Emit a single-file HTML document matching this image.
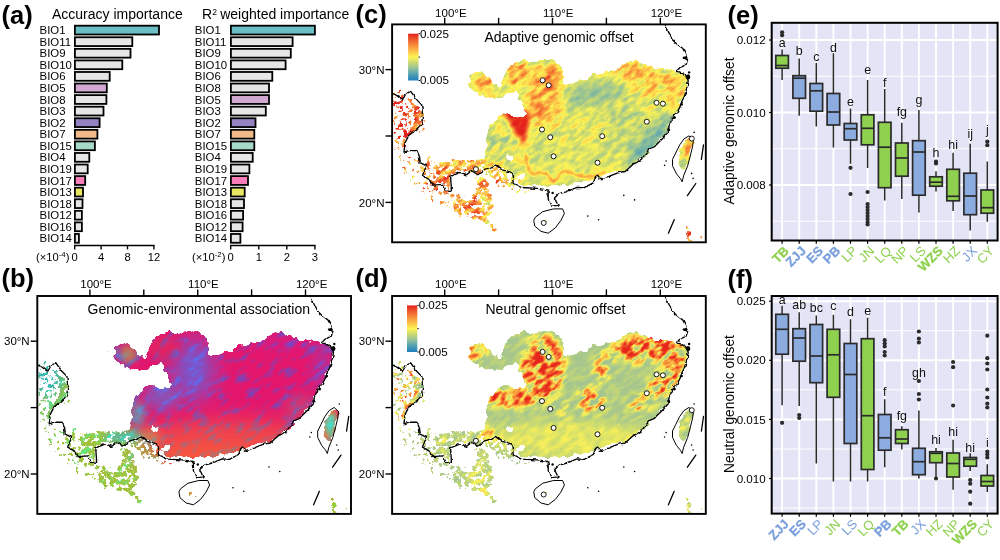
<!DOCTYPE html>
<html lang="en"><head><meta charset="utf-8"><title>Figure</title>
<style>
html,body{margin:0;padding:0;background:#fff;}
body{width:1000px;height:560px;overflow:hidden;}
svg{display:block;font-family:"Liberation Sans", Arial, Helvetica, sans-serif;}
</style></head><body>
<svg width="1000" height="560" viewBox="0 0 1000 560">
<defs>
<filter id="nz" x="0" y="0" width="313.7" height="217.9" filterUnits="userSpaceOnUse" color-interpolation-filters="sRGB">
<feTurbulence type="fractalNoise" baseFrequency="0.26 0.26" numOctaves="3" seed="7" result="t"/>
<feColorMatrix in="t" type="matrix" values="0 0 0 0 0 0 0 0 0 0 0 0 0 0 0 0 0 0 1 0" result="n"/>
<feTurbulence type="fractalNoise" baseFrequency="0.17" numOctaves="2" seed="19" result="t2"/>
<feDisplacementMap in="SourceGraphic" in2="t2" scale="7" xChannelSelector="R" yChannelSelector="G" result="dsp"/>
<feGaussianBlur in="dsp" stdDeviation="0.9" result="s"/>
<feComposite in="s" in2="n" operator="arithmetic" k1="0" k2="12.0" k3="13.200000000000001" k4="-12.100" result="m"/>
<feColorMatrix in="m" type="matrix" values="0 0 0 0 1 0 0 0 0 1 0 0 0 0 1 0 0 0 1 0"/>
</filter>
<filter id="pc" x="-129.0" y="-4.0" width="390.0" height="366.4" filterUnits="userSpaceOnUse" color-interpolation-filters="sRGB">
<feTurbulence type="fractalNoise" baseFrequency="0.09 0.2" numOctaves="3" seed="11" result="t"/>
<feColorMatrix in="t" type="matrix" values="0 0 0 2.2 -0.600 0 0 0 2.2 -0.600 0 0 0 2.2 -0.600 0 0 0 0 1" result="n"/>
<feColorMatrix in="SourceGraphic" type="matrix" values="0 1 0 0 0 0 1 0 0 0 0 1 0 0 0 0 0 0 0 1" result="A"/>
<feColorMatrix in="SourceGraphic" type="matrix" values="1 0 0 0 0 1 0 0 0 0 1 0 0 0 0 0 0 0 0 1" result="B"/>
<feComposite in="A" in2="n" operator="arithmetic" k1="1" k2="0" k3="0" k4="0" result="P"/>
<feComposite in="B" in2="P" operator="arithmetic" k1="0" k2="0.5" k3="0.5" k4="0" result="T"/>
<feComposite in="T" in2="A" operator="arithmetic" k1="0" k2="2" k3="-0.5" k4="0" result="v"/>
<feComponentTransfer in="v"><feFuncR type="table" tableValues="0.125 0.302 0.561 0.776 0.992 0.984 0.973 0.933 0.898"/><feFuncG type="table" tableValues="0.506 0.616 0.749 0.847 0.957 0.753 0.549 0.353 0.133"/><feFuncB type="table" tableValues="0.753 0.706 0.604 0.455 0.333 0.282 0.227 0.173 0.110"/><feFuncA type="linear" slope="0" intercept="1"/></feComponentTransfer>
</filter>
<filter id="pd" x="-129.0" y="-4.0" width="390.0" height="366.4" filterUnits="userSpaceOnUse" color-interpolation-filters="sRGB">
<feTurbulence type="fractalNoise" baseFrequency="0.09 0.2" numOctaves="3" seed="23" result="t"/>
<feColorMatrix in="t" type="matrix" values="0 0 0 2.2 -0.600 0 0 0 2.2 -0.600 0 0 0 2.2 -0.600 0 0 0 0 1" result="n"/>
<feColorMatrix in="SourceGraphic" type="matrix" values="0 1 0 0 0 0 1 0 0 0 0 1 0 0 0 0 0 0 0 1" result="A"/>
<feColorMatrix in="SourceGraphic" type="matrix" values="1 0 0 0 0 1 0 0 0 0 1 0 0 0 0 0 0 0 0 1" result="B"/>
<feComposite in="A" in2="n" operator="arithmetic" k1="1" k2="0" k3="0" k4="0" result="P"/>
<feComposite in="B" in2="P" operator="arithmetic" k1="0" k2="0.5" k3="0.5" k4="0" result="T"/>
<feComposite in="T" in2="A" operator="arithmetic" k1="0" k2="2" k3="-0.5" k4="0" result="v"/>
<feComponentTransfer in="v"><feFuncR type="table" tableValues="0.612 0.635 0.663 0.788 0.984 0.984 0.973 0.937 0.902"/><feFuncG type="table" tableValues="0.753 0.769 0.784 0.855 0.945 0.745 0.537 0.337 0.149"/><feFuncB type="table" tableValues="0.588 0.573 0.549 0.447 0.345 0.275 0.227 0.157 0.110"/><feFuncA type="linear" slope="0" intercept="1"/></feComponentTransfer>
</filter>
<filter id="pb" x="-129.0" y="-4.0" width="390.0" height="366.4" filterUnits="userSpaceOnUse" color-interpolation-filters="sRGB">
<feTurbulence type="fractalNoise" baseFrequency="0.07 0.17" numOctaves="3" seed="5" result="t"/>
<feColorMatrix in="t" type="matrix" values="0 0 0 0 0  0 0 0 0.540 -0.270  0 0 0 0.900 -0.450  0 0 0 0 1" result="n1"/>
<feColorMatrix in="t" type="matrix" values="0 0 0 -1.380 1.690  0 0 0 0 1  0 0 0 0 1  0 0 0 0 1" result="n2"/>
<feComposite in="SourceGraphic" in2="n1" operator="arithmetic" k1="0" k2="1" k3="1" k4="0" result="v1"/>
<feComposite in="v1" in2="n2" operator="arithmetic" k1="1" k2="0" k3="0" k4="0" result="v"/>
<feComponentTransfer in="v"><feFuncA type="linear" slope="0" intercept="1"/></feComponentTransfer>
</filter>
<filter id="jag" x="-2" y="-2" width="317.7" height="221.9" filterUnits="userSpaceOnUse">
<feTurbulence type="fractalNoise" baseFrequency="0.22" numOctaves="2" seed="3" result="t"/>
<feDisplacementMap in="SourceGraphic" in2="t" scale="3.6" xChannelSelector="R" yChannelSelector="G"/>
</filter>
<mask id="mk" maskUnits="userSpaceOnUse" x="0" y="0" width="313.7" height="217.9"><g filter="url(#nz)"><g transform="translate(0.5,0)"><path d="M3.0 130.0 L12.0 128.0 L27.0 135.0 L31.0 150.0 L40.0 160.0 L52.0 166.0 L62.0 168.0 L74.0 170.0 L76.0 184.0 L72.0 194.0 L60.0 190.0 L48.0 182.0 L36.0 176.0 L24.0 166.0 L12.0 152.0 L4.0 140.0Z" fill="#000" fill-opacity="0.328"/><path d="M27.0 134.0 L36.0 132.0 L46.0 136.0 L52.0 140.0 L45.0 145.0 L41.0 151.0 L37.0 157.0 L41.0 161.0 L52.0 166.0 L60.0 166.0 L62.0 171.0 L52.0 170.0 L42.0 166.0 L34.0 160.0 L29.0 150.0 L27.0 142.0Z" fill="#000" fill-opacity="0.422"/><path d="M96.3 129.4 L88.2 134.5 L82.1 134.5 L76.0 136.6 L67.9 134.5 L59.7 134.5 L51.6 136.6 L46.5 140.6 L44.5 144.7 L41.4 150.8 L37.3 157.0 L41.4 161.0 L44.5 159.0 L51.6 160.0 L53.6 165.0 L60.7 165.0 L59.7 161.0 L58.7 151.8 L61.7 149.8 L67.9 146.7 L71.9 147.8 L78.0 147.8 L84.1 149.8 L90.2 147.8 L96.3 144.7 L102.5 141.6 L99.0 135.0Z" fill="#000" fill-opacity="0.613"/><path d="M102.5 142.7 L110.6 144.7 L118.7 150.8 L122.8 161.0 L118.0 166.0 L110.0 164.0 L104.0 161.0 L98.4 154.9 L92.3 149.8 L96.0 145.0Z" fill="#000" fill-opacity="0.517"/><path d="M80.1 150.8 L88.2 149.8 L96.3 156.9 L98.4 165.0 L100.4 173.2 L102.5 181.3 L100.4 189.5 L96.3 193.5 L102.5 203.7 L107.5 214.9 L103.5 212.9 L96.3 203.7 L90.2 197.6 L82.1 195.6 L76.0 189.5 L75.0 179.3 L78.0 171.2 L82.1 165.0 L84.1 159.0 L80.1 154.9Z" fill="#000" fill-opacity="0.578"/><path d="M62.0 171.0 L75.0 175.0 L76.0 189.0 L82.0 196.0 L78.0 199.0 L68.0 192.0 L60.0 182.0Z" fill="#000" fill-opacity="0.387"/><path d="M15.4 74.5 L20.4 73.5 L24.4 79.5 L28.9 82.5 L29.9 90.5 L28.4 99.5 L21.4 107.5 L17.4 111.0 L13.0 119.0 L10.5 127.0 L5.5 127.0 L8.0 119.0 L12.4 111.0 L17.4 103.5 L20.4 97.5 L21.4 90.5 L20.4 83.5 L17.4 78.5Z" fill="#000" fill-opacity="0.639"/><path d="M0.0 66.0 L7.5 64.0 L15.4 74.5 L17.4 78.5 L20.4 83.5 L21.4 90.5 L20.4 97.5 L17.4 103.5 L12.4 111.0 L8.0 119.0 L5.5 127.0 L0.0 127.0Z" fill="#000" fill-opacity="0.430"/><path d="M28.9 82.5 L32.5 86.0 L33.5 98.0 L30.5 106.0 L25.5 110.0 L21.4 107.5 L28.4 99.5 L29.9 90.5Z" fill="#000" fill-opacity="0.410"/><path d="M121.0 160.0 L128.0 163.0 L135.0 165.0 L134.0 169.0 L126.0 170.0 L121.0 167.0Z" fill="#000" fill-opacity="0.410"/><path d="M146.0 196.0 L152.0 194.0 L158.0 196.0 L160.0 199.0 L154.0 201.0 L147.0 200.0Z" fill="#000" fill-opacity="0.448"/><path d="M292.3 201.0 L296.5 202.0 L298.5 208.0 L299.0 217.5 L294.0 217.5 L293.3 209.0Z" fill="#000" fill-opacity="0.613"/><path d="M306.8 209.0 L309.8 210.0 L310.0 217.5 L307.3 217.5Z" fill="#000" fill-opacity="0.534"/><path d="M85.6 45.0 L92.2 50.6 L99.4 57.0 L105.4 60.8 L109.6 60.4 L110.2 55.2 L112.6 48.0 L117.4 40.8 L124.6 37.2 L134.2 36.0 L141.4 37.2 L146.2 35.4 L153.4 35.4 L160.6 36.6 L166.6 39.6 L170.2 45.6 L171.4 54.0 L170.0 59.5 L176.3 60.3 L184.3 57.9 L192.3 54.6 L200.4 49.8 L208.4 47.4 L216.4 46.6 L224.5 45.8 L226.1 42.6 L229.3 40.2 L235.7 37.8 L240.5 36.6 L246.9 37.3 L251.8 39.4 L256.6 42.1 L263.0 44.2 L271.0 44.2 L275.9 45.0 L282.3 46.6 L288.7 48.2 L293.5 51.4 L295.1 56.3 L294.3 61.1 L292.7 67.5 L291.1 72.3 L288.7 77.1 L287.1 82.0 L284.7 86.8 L283.1 90.0 L280.7 90.0 L279.1 94.8 L275.9 101.3 L275.1 107.7 L271.0 112.5 L266.2 117.3 L261.4 122.1 L256.6 124.6 L253.4 130.2 L248.6 134.2 L243.7 137.4 L239.7 141.4 L234.1 144.6 L227.7 146.3 L222.9 147.1 L216.4 149.5 L208.4 151.9 L203.6 151.9 L200.4 154.0 L192.3 156.0 L184.3 158.3 L176.3 159.8 L170.0 161.2 L164.6 161.4 L153.8 161.0 L142.2 160.6 L135.0 161.5 L128.0 160.0 L122.0 156.0 L119.0 150.0 L119.1 147.9 L112.6 144.6 L104.6 141.4 L96.6 143.0 L90.2 138.2 L92.6 131.8 L95.0 122.1 L94.2 112.5 L96.6 102.9 L103.0 94.8 L111.0 89.5 L118.0 90.5 L127.0 93.0 L134.0 88.5 L130.0 80.0 L126.0 72.0 L125.8 63.6 L122.2 66.0 L115.0 69.6 L110.2 73.2 L101.8 74.2 L92.2 72.4 L86.2 70.6 L80.0 67.0 L76.0 62.4 L76.4 56.0 L77.2 51.0 L81.0 47.4ZM123.5 150.0 L127.0 149.0 L131.5 150.5 L132.5 153.5 L129.5 155.5 L126.0 154.5 L123.5 153.0ZM112.5 131.5 L116.0 130.0 L120.0 131.5 L121.0 134.5 L117.0 136.0 L113.0 135.0Z" fill="#000" fill-rule="evenodd"/><path d="M296.0 112.5 L300.3 115.7 L299.5 122.0 L297.6 130.0 L295.0 138.0 L292.5 144.0 L289.5 146.0 L286.5 142.5 L285.5 137.0 L286.5 131.0 L288.5 125.0 L291.0 119.0 L293.5 114.5Z" fill="#000"/></g></g></mask>
<clipPath id="fc"><rect x="0" y="0" width="313.7" height="217.9"/></clipPath>
<filter id="b1" x="-60%" y="-60%" width="220%" height="220%"><feGaussianBlur stdDeviation="1"/></filter>
<filter id="b2" x="-60%" y="-60%" width="220%" height="220%"><feGaussianBlur stdDeviation="2"/></filter>
<filter id="b3" x="-60%" y="-60%" width="220%" height="220%"><feGaussianBlur stdDeviation="3"/></filter>
<filter id="b4" x="-60%" y="-60%" width="220%" height="220%"><feGaussianBlur stdDeviation="4"/></filter>
<filter id="b6" x="-60%" y="-60%" width="220%" height="220%"><feGaussianBlur stdDeviation="6"/></filter>
<filter id="b10" x="-60%" y="-60%" width="220%" height="220%"><feGaussianBlur stdDeviation="10"/></filter>
<filter id="b14" x="-60%" y="-60%" width="220%" height="220%"><feGaussianBlur stdDeviation="14"/></filter>
<linearGradient id="lg" x1="0" y1="0" x2="0" y2="1"><stop offset="0.000" stop-color="#E5221C"/><stop offset="0.125" stop-color="#EE5A2C"/><stop offset="0.250" stop-color="#F88C3A"/><stop offset="0.375" stop-color="#FBC048"/><stop offset="0.500" stop-color="#FDF455"/><stop offset="0.625" stop-color="#C6D874"/><stop offset="0.750" stop-color="#8FBF9A"/><stop offset="0.875" stop-color="#4D9DB4"/><stop offset="1.000" stop-color="#2081C0"/></linearGradient>
<g id="lines" fill="none" stroke="#000" stroke-width="1.25" stroke-linejoin="round" stroke-linecap="round"><g filter="url(#jag)"><path d="M0.2 69.1 L4.0 71.0 L9.8 75.5 L13.0 70.0 L17.9 66.7 L21.0 71.0 L24.3 75.5 L29.1 80.4 L29.9 90.0 L29.1 99.6 L24.3 104.5 L16.3 110.9 L12.2 118.9 L11.4 127.8 L16.3 126.2 L24.3 126.2 L26.7 131.8 L27.5 138.2 L33.9 141.4 L29.9 151.1 L38.0 155.9 L40.4 160.7 L50.0 159.9 L53.2 165.5 L58.8 166.3 L58.0 151.9 L67.7 147.9 L74.1 150.3 L78.9 146.3 L85.3 150.3 L91.8 145.4 L103.0 140.6 L109.4 145.4 L119.1 147.9 L120.7 159.1 L128.7 163.1 L144.8 163.9 L154.4 165.5 L155.6 167.4 L155.6 174.6 L158.3 181.8 L165.5 180.9 L161.9 173.7 L166.4 169.2 L173.6 167.4 L184.4 162.9 L191.6 163.3 L200.6 158.5 L203.8 151.5 L208.4 154.3 L216.4 151.9 L224.5 148.7 L232.5 147.1 L240.5 139.8 L243.7 138.2 L248.6 135.0 L255.0 127.0 L256.6 124.6 L261.4 122.6 L266.2 117.8 L271.5 112.5 L275.6 107.7 L276.4 101.3 L279.6 94.8 L281.2 90.0 L283.6 90.0 L285.2 86.8 L287.6 82.0 L289.2 77.1 L291.6 72.3 L293.2 67.5 L294.8 61.1 L295.6 56.3 L294.0 51.4 L288.7 48.2 L283.9 46.6 L287.1 43.4 L293.5 40.2 L295.1 35.4 L291.9 33.8 L293.5 30.5 L290.3 24.1 L283.9 19.3 L279.1 14.5 L272.6 0.0" stroke-width="1.35"/></g><path d="M143.0 192.6 L150.2 187.2 L161.0 184.5 L170.0 184.5 L171.8 189.0 L168.2 196.2 L162.8 203.4 L155.6 208.8 L148.4 207.0 L142.1 201.6 L141.2 196.2Z" stroke-width="1.0"/><path d="M296.7 111.7 L300.8 115.7 L300.0 122.1 L297.6 131.8 L295.1 141.4 L291.1 151.1 L289.5 157.5 L287.9 154.3 L283.9 149.5 L279.9 141.4 L279.9 135.0 L283.1 128.6 L287.1 120.5 L291.1 114.9Z" stroke-width="1.0"/><path d="M310.9 120.5 L308.8 135" stroke-width="1.3"/><path d="M303.2 159.1 L294.8 171.2" stroke-width="1.3"/><path d="M281.6 195.3 L275.8 208.8" stroke-width="1.3"/><circle cx="231.2" cy="171" r="0.8" fill="#000" stroke="none"/><circle cx="242" cy="175.5" r="0.8" fill="#000" stroke="none"/><circle cx="195.2" cy="191.7" r="0.8" fill="#000" stroke="none"/><circle cx="206" cy="195.3" r="0.8" fill="#000" stroke="none"/><circle cx="273.5" cy="136.6" r="0.8" fill="#000" stroke="none"/><circle cx="272" cy="141" r="0.8" fill="#000" stroke="none"/><circle cx="301.5" cy="108" r="0.8" fill="#000" stroke="none"/><circle cx="299" cy="149" r="0.8" fill="#000" stroke="none"/><circle cx="300.5" cy="154" r="0.8" fill="#000" stroke="none"/><ellipse cx="292.5" cy="33.5" rx="2.6" ry="1.3" fill="#000" stroke="none"/><ellipse cx="295.5" cy="52.5" rx="2.2" ry="2.6" fill="#000" stroke="none"/><ellipse cx="296.5" cy="48" rx="1.2" ry="1.2" fill="#000" stroke="none"/><ellipse cx="289" cy="80" rx="1.3" ry="1.3" fill="#000" stroke="none"/><ellipse cx="282" cy="93" rx="1.2" ry="1.5" fill="#000" stroke="none"/><ellipse cx="276" cy="105" rx="1.4" ry="1.2" fill="#000" stroke="none"/><ellipse cx="160" cy="168.5" rx="1.2" ry="1.2" fill="#000" stroke="none"/></g>
</defs>
<rect width="1000" height="560" fill="#fff"/>
<text x="1.50" y="24.00" font-size="25.5" text-anchor="start" font-weight="bold" fill="#000" >(a)</text>
<rect x="74.90" y="25.70" width="84.10" height="8.80" fill="#6BBEC4" stroke="#000" stroke-width="1.8"/>
<text x="39.60" y="34.20" font-size="11.4" text-anchor="start" font-weight="normal" fill="#000" >BIO1</text>
<rect x="74.90" y="37.27" width="57.40" height="8.80" fill="#E6E6E6" stroke="#000" stroke-width="1.8"/>
<text x="39.60" y="45.77" font-size="11.4" text-anchor="start" font-weight="normal" fill="#000" >BIO11</text>
<rect x="74.90" y="48.84" width="55.60" height="8.80" fill="#E6E6E6" stroke="#000" stroke-width="1.8"/>
<text x="39.60" y="57.34" font-size="11.4" text-anchor="start" font-weight="normal" fill="#000" >BIO9</text>
<rect x="74.90" y="60.41" width="47.40" height="8.80" fill="#E6E6E6" stroke="#000" stroke-width="1.8"/>
<text x="39.60" y="68.91" font-size="11.4" text-anchor="start" font-weight="normal" fill="#000" >BIO10</text>
<rect x="74.90" y="71.98" width="34.80" height="8.80" fill="#E6E6E6" stroke="#000" stroke-width="1.8"/>
<text x="39.60" y="80.48" font-size="11.4" text-anchor="start" font-weight="normal" fill="#000" >BIO6</text>
<rect x="74.90" y="83.55" width="31.90" height="8.80" fill="#D3A8D3" stroke="#000" stroke-width="1.8"/>
<text x="39.60" y="92.05" font-size="11.4" text-anchor="start" font-weight="normal" fill="#000" >BIO5</text>
<rect x="74.90" y="95.12" width="31.50" height="8.80" fill="#E6E6E6" stroke="#000" stroke-width="1.8"/>
<text x="39.60" y="103.62" font-size="11.4" text-anchor="start" font-weight="normal" fill="#000" >BIO8</text>
<rect x="74.90" y="106.69" width="28.60" height="8.80" fill="#E6E6E6" stroke="#000" stroke-width="1.8"/>
<text x="39.60" y="115.19" font-size="11.4" text-anchor="start" font-weight="normal" fill="#000" >BIO3</text>
<rect x="74.90" y="118.26" width="24.70" height="8.80" fill="#9582C3" stroke="#000" stroke-width="1.8"/>
<text x="39.60" y="126.76" font-size="11.4" text-anchor="start" font-weight="normal" fill="#000" >BIO2</text>
<rect x="74.90" y="129.83" width="22.50" height="8.80" fill="#F0BB87" stroke="#000" stroke-width="1.8"/>
<text x="39.60" y="138.33" font-size="11.4" text-anchor="start" font-weight="normal" fill="#000" >BIO7</text>
<rect x="74.90" y="141.40" width="20.00" height="8.80" fill="#A6D9CA" stroke="#000" stroke-width="1.8"/>
<text x="39.60" y="149.90" font-size="11.4" text-anchor="start" font-weight="normal" fill="#000" >BIO15</text>
<rect x="74.90" y="152.97" width="14.40" height="8.80" fill="#E6E6E6" stroke="#000" stroke-width="1.8"/>
<text x="39.60" y="161.47" font-size="11.4" text-anchor="start" font-weight="normal" fill="#000" >BIO4</text>
<rect x="74.90" y="164.54" width="12.80" height="8.80" fill="#E6E6E6" stroke="#000" stroke-width="1.8"/>
<text x="39.60" y="173.04" font-size="11.4" text-anchor="start" font-weight="normal" fill="#000" >BIO19</text>
<rect x="74.90" y="176.11" width="10.30" height="8.80" fill="#F77CB7" stroke="#000" stroke-width="1.8"/>
<text x="39.60" y="184.61" font-size="11.4" text-anchor="start" font-weight="normal" fill="#000" >BIO17</text>
<rect x="74.90" y="187.68" width="8.10" height="8.80" fill="#E9E662" stroke="#000" stroke-width="1.8"/>
<text x="39.60" y="196.18" font-size="11.4" text-anchor="start" font-weight="normal" fill="#000" >BIO13</text>
<rect x="74.90" y="199.25" width="7.60" height="8.80" fill="#E6E6E6" stroke="#000" stroke-width="1.8"/>
<text x="39.60" y="207.75" font-size="11.4" text-anchor="start" font-weight="normal" fill="#000" >BIO18</text>
<rect x="74.90" y="210.82" width="7.00" height="8.80" fill="#E6E6E6" stroke="#000" stroke-width="1.8"/>
<text x="39.60" y="219.32" font-size="11.4" text-anchor="start" font-weight="normal" fill="#000" >BIO12</text>
<rect x="74.90" y="222.39" width="7.00" height="8.80" fill="#E6E6E6" stroke="#000" stroke-width="1.8"/>
<text x="39.60" y="230.89" font-size="11.4" text-anchor="start" font-weight="normal" fill="#000" >BIO16</text>
<rect x="74.90" y="233.96" width="4.00" height="8.80" fill="#E6E6E6" stroke="#000" stroke-width="1.8"/>
<text x="39.60" y="242.46" font-size="11.4" text-anchor="start" font-weight="normal" fill="#000" >BIO14</text>
<path d="M74.00 245.6 H154.60" stroke="#000" stroke-width="1.5" fill="none"/>
<path d="M74.70 245.6 V249.4" stroke="#000" stroke-width="1.4" fill="none"/>
<text x="74.70" y="260.50" font-size="11.2" text-anchor="middle" font-weight="normal" fill="#000" >0</text>
<path d="M101.10 245.6 V249.4" stroke="#000" stroke-width="1.4" fill="none"/>
<text x="101.10" y="260.50" font-size="11.2" text-anchor="middle" font-weight="normal" fill="#000" >4</text>
<path d="M127.50 245.6 V249.4" stroke="#000" stroke-width="1.4" fill="none"/>
<text x="127.50" y="260.50" font-size="11.2" text-anchor="middle" font-weight="normal" fill="#000" >8</text>
<path d="M153.90 245.6 V249.4" stroke="#000" stroke-width="1.4" fill="none"/>
<text x="153.90" y="260.50" font-size="11.2" text-anchor="middle" font-weight="normal" fill="#000" >12</text>
<text x="36.00" y="260.5" font-size="11.2">(×10<tspan font-size="7.8" dy="-4">-4</tspan><tspan dy="4">)</tspan></text>
<text x="52.00" y="19.2" font-size="14">Accuracy importance</text>
<rect x="230.90" y="25.70" width="84.00" height="8.80" fill="#6BBEC4" stroke="#000" stroke-width="1.8"/>
<text x="194.80" y="34.20" font-size="11.4" text-anchor="start" font-weight="normal" fill="#000" >BIO1</text>
<rect x="230.90" y="37.27" width="61.70" height="8.80" fill="#E6E6E6" stroke="#000" stroke-width="1.8"/>
<text x="194.80" y="45.77" font-size="11.4" text-anchor="start" font-weight="normal" fill="#000" >BIO11</text>
<rect x="230.90" y="48.84" width="59.90" height="8.80" fill="#E6E6E6" stroke="#000" stroke-width="1.8"/>
<text x="194.80" y="57.34" font-size="11.4" text-anchor="start" font-weight="normal" fill="#000" >BIO9</text>
<rect x="230.90" y="60.41" width="54.70" height="8.80" fill="#E6E6E6" stroke="#000" stroke-width="1.8"/>
<text x="194.80" y="68.91" font-size="11.4" text-anchor="start" font-weight="normal" fill="#000" >BIO10</text>
<rect x="230.90" y="71.98" width="41.40" height="8.80" fill="#E6E6E6" stroke="#000" stroke-width="1.8"/>
<text x="194.80" y="80.48" font-size="11.4" text-anchor="start" font-weight="normal" fill="#000" >BIO6</text>
<rect x="230.90" y="83.55" width="38.10" height="8.80" fill="#E6E6E6" stroke="#000" stroke-width="1.8"/>
<text x="194.80" y="92.05" font-size="11.4" text-anchor="start" font-weight="normal" fill="#000" >BIO8</text>
<rect x="230.90" y="95.12" width="38.10" height="8.80" fill="#D3A8D3" stroke="#000" stroke-width="1.8"/>
<text x="194.80" y="103.62" font-size="11.4" text-anchor="start" font-weight="normal" fill="#000" >BIO5</text>
<rect x="230.90" y="106.69" width="34.90" height="8.80" fill="#E6E6E6" stroke="#000" stroke-width="1.8"/>
<text x="194.80" y="115.19" font-size="11.4" text-anchor="start" font-weight="normal" fill="#000" >BIO3</text>
<rect x="230.90" y="118.26" width="24.60" height="8.80" fill="#9582C3" stroke="#000" stroke-width="1.8"/>
<text x="194.80" y="126.76" font-size="11.4" text-anchor="start" font-weight="normal" fill="#000" >BIO2</text>
<rect x="230.90" y="129.83" width="23.40" height="8.80" fill="#F0BB87" stroke="#000" stroke-width="1.8"/>
<text x="194.80" y="138.33" font-size="11.4" text-anchor="start" font-weight="normal" fill="#000" >BIO7</text>
<rect x="230.90" y="141.40" width="23.40" height="8.80" fill="#A6D9CA" stroke="#000" stroke-width="1.8"/>
<text x="194.80" y="149.90" font-size="11.4" text-anchor="start" font-weight="normal" fill="#000" >BIO15</text>
<rect x="230.90" y="152.97" width="21.80" height="8.80" fill="#E6E6E6" stroke="#000" stroke-width="1.8"/>
<text x="194.80" y="161.47" font-size="11.4" text-anchor="start" font-weight="normal" fill="#000" >BIO4</text>
<rect x="230.90" y="164.54" width="18.50" height="8.80" fill="#E6E6E6" stroke="#000" stroke-width="1.8"/>
<text x="194.80" y="173.04" font-size="11.4" text-anchor="start" font-weight="normal" fill="#000" >BIO19</text>
<rect x="230.90" y="176.11" width="17.10" height="8.80" fill="#F77CB7" stroke="#000" stroke-width="1.8"/>
<text x="194.80" y="184.61" font-size="11.4" text-anchor="start" font-weight="normal" fill="#000" >BIO17</text>
<rect x="230.90" y="187.68" width="13.80" height="8.80" fill="#E9E662" stroke="#000" stroke-width="1.8"/>
<text x="194.80" y="196.18" font-size="11.4" text-anchor="start" font-weight="normal" fill="#000" >BIO13</text>
<rect x="230.90" y="199.25" width="13.10" height="8.80" fill="#E6E6E6" stroke="#000" stroke-width="1.8"/>
<text x="194.80" y="207.75" font-size="11.4" text-anchor="start" font-weight="normal" fill="#000" >BIO18</text>
<rect x="230.90" y="210.82" width="12.20" height="8.80" fill="#E6E6E6" stroke="#000" stroke-width="1.8"/>
<text x="194.80" y="219.32" font-size="11.4" text-anchor="start" font-weight="normal" fill="#000" >BIO16</text>
<rect x="230.90" y="222.39" width="11.70" height="8.80" fill="#E6E6E6" stroke="#000" stroke-width="1.8"/>
<text x="194.80" y="230.89" font-size="11.4" text-anchor="start" font-weight="normal" fill="#000" >BIO12</text>
<rect x="230.90" y="233.96" width="9.50" height="8.80" fill="#E6E6E6" stroke="#000" stroke-width="1.8"/>
<text x="194.80" y="242.46" font-size="11.4" text-anchor="start" font-weight="normal" fill="#000" >BIO14</text>
<path d="M230.00 245.6 H315.60" stroke="#000" stroke-width="1.5" fill="none"/>
<path d="M230.70 245.6 V249.4" stroke="#000" stroke-width="1.4" fill="none"/>
<text x="230.70" y="260.50" font-size="11.2" text-anchor="middle" font-weight="normal" fill="#000" >0</text>
<path d="M258.80 245.6 V249.4" stroke="#000" stroke-width="1.4" fill="none"/>
<text x="258.80" y="260.50" font-size="11.2" text-anchor="middle" font-weight="normal" fill="#000" >1</text>
<path d="M286.80 245.6 V249.4" stroke="#000" stroke-width="1.4" fill="none"/>
<text x="286.80" y="260.50" font-size="11.2" text-anchor="middle" font-weight="normal" fill="#000" >2</text>
<path d="M314.90 245.6 V249.4" stroke="#000" stroke-width="1.4" fill="none"/>
<text x="314.90" y="260.50" font-size="11.2" text-anchor="middle" font-weight="normal" fill="#000" >3</text>
<text x="192.00" y="260.5" font-size="11.2">(×10<tspan font-size="7.8" dy="-4">-2</tspan><tspan dy="4">)</tspan></text>
<text x="202.00" y="19.2" font-size="14">R<tspan font-size="8.6" dy="-4.6">2</tspan><tspan dy="4.6" dx="-0.6"> weighted importance</tspan></text>
<g transform="translate(37.3,296.0)"><g clip-path="url(#fc)"><g mask="url(#mk)"><g transform="rotate(-35.0)"><g filter="url(#pb)"><g transform="rotate(35.0)"><rect x="-200" y="-200" width="713.7" height="617.9" fill="#E4166C"/><ellipse cx="190" cy="150" rx="105" ry="26" fill="#F2464A" opacity="1" filter="url(#b10)"/><ellipse cx="175" cy="160" rx="70" ry="9" fill="#F8583A" opacity="0.9" filter="url(#b6)"/><ellipse cx="245" cy="45" rx="30" ry="8" fill="#C020A0" opacity="0.35" filter="url(#b6)"/><ellipse cx="285" cy="70" rx="9" ry="26" fill="#9040B8" opacity="0.5" filter="url(#b6)"/><ellipse cx="263" cy="112" rx="16" ry="13" fill="#B85878" opacity="0.5" filter="url(#b6)"/><ellipse cx="156" cy="74" rx="19" ry="30" fill="#6E5CD4" opacity="0.95" filter="url(#b10)"/><ellipse cx="125" cy="100" rx="18" ry="14" fill="#8058C0" opacity="0.85" filter="url(#b6)"/><path d="M-10.0 40.0 L45.0 40.0 L55.0 100.0 L70.0 125.0 L92.0 132.0 L108.0 150.0 L126.0 168.0 L126.0 230.0 L-10.0 230.0Z" fill="#A2C23E" opacity="1" filter="url(#b6)"/><ellipse cx="153" cy="198" rx="12" ry="8" fill="#C8A040" opacity="1" filter="url(#b3)"/><ellipse cx="100" cy="118" rx="8" ry="13" fill="#7090A8" opacity="0.9" filter="url(#b4)"/><ellipse cx="112" cy="141" rx="11" ry="9" fill="#D87850" opacity="0.9" filter="url(#b4)"/><ellipse cx="86" cy="141" rx="20" ry="6" fill="#58B89A" opacity="1" filter="url(#b3)"/><ellipse cx="106" cy="161" rx="14" ry="7" fill="#C08848" opacity="0.9" filter="url(#b4)"/><ellipse cx="10" cy="80" rx="16" ry="24" fill="#38B4AC" opacity="1" filter="url(#b6)"/><ellipse cx="14" cy="116" rx="13" ry="14" fill="#78C060" opacity="1" filter="url(#b6)"/><ellipse cx="126" cy="52" rx="16" ry="13" fill="#E02464" opacity="1" filter="url(#b4)"/><ellipse cx="91" cy="58" rx="9" ry="9" fill="#B87860" opacity="1" filter="url(#b3)"/><ellipse cx="80" cy="56" rx="3" ry="8" fill="#8060B0" opacity="0.9" filter="url(#b2)"/><ellipse cx="300" cy="210" rx="14" ry="12" fill="#A0C830" opacity="1" filter="url(#b3)"/><ellipse cx="292" cy="128" rx="10" ry="19" fill="#D08848" opacity="1" filter="url(#b3)"/><ellipse cx="293.5" cy="129" rx="3.0" ry="10" fill="#30E0D0" opacity="1" filter="url(#b2)" transform="rotate(12 293.5 129)"/></g></g></g></g><use href="#lines" x="0.5"/></g></g>
<text x="1.50" y="286.60" font-size="25.5" text-anchor="start" font-weight="bold" fill="#000" >(b)</text>
<path d="M89.90 296.00 v-6.6" stroke="#000" stroke-width="1.4"/>
<text x="80.30" y="288.40" font-size="11.5" text-anchor="start" font-weight="normal" fill="#000" >100°E</text>
<path d="M143.80 296.00 v-6.6" stroke="#000" stroke-width="1.4"/>
<path d="M197.70 296.00 v-6.6" stroke="#000" stroke-width="1.4"/>
<text x="188.10" y="288.40" font-size="11.5" text-anchor="start" font-weight="normal" fill="#000" >110°E</text>
<path d="M251.60 296.00 v-6.6" stroke="#000" stroke-width="1.4"/>
<path d="M305.50 296.00 v-6.6" stroke="#000" stroke-width="1.4"/>
<text x="295.90" y="288.40" font-size="11.5" text-anchor="start" font-weight="normal" fill="#000" >120°E</text>
<path d="M37.30 341.20 h-6.6" stroke="#000" stroke-width="1.4"/>
<text x="29.70" y="345.40" font-size="11.5" text-anchor="end" font-weight="normal" fill="#000" >30°N</text>
<path d="M37.30 407.60 h-6.6" stroke="#000" stroke-width="1.4"/>
<path d="M37.30 474.00 h-6.6" stroke="#000" stroke-width="1.4"/>
<text x="29.70" y="478.20" font-size="11.5" text-anchor="end" font-weight="normal" fill="#000" >20°N</text>
<rect x="37.30" y="296.00" width="313.7" height="217.9" fill="none" stroke="#000" stroke-width="1.9"/>
<text x="87.50" y="313.80" font-size="14" text-anchor="start" font-weight="normal" fill="#000" >Genomic-environmental association</text>
<g transform="translate(392.1,24.4)"><g clip-path="url(#fc)"><g mask="url(#mk)"><g transform="rotate(-35.0)"><g filter="url(#pc)"><g transform="rotate(35.0)"><rect x="-200" y="-200" width="713.7" height="617.9" fill="#733d00"/><ellipse cx="200" cy="70" rx="34" ry="13" fill="#472100" opacity="0.95" filter="url(#b6)" transform="rotate(-8 200 70)"/><ellipse cx="232" cy="92" rx="22" ry="12" fill="#523800" opacity="0.8" filter="url(#b6)" transform="rotate(30 232 92)"/><ellipse cx="259" cy="117" rx="34" ry="11" fill="#302100" opacity="0.95" filter="url(#b6)" transform="rotate(-45 259 117)"/><ellipse cx="222" cy="122" rx="20" ry="9" fill="#523300" opacity="0.7" filter="url(#b6)" transform="rotate(-20 222 122)"/><ellipse cx="152" cy="75" rx="17" ry="28" fill="#ad5900" opacity="0.95" filter="url(#b6)"/><ellipse cx="158" cy="52" rx="13" ry="10" fill="#c25900" opacity="0.9" filter="url(#b4)"/><ellipse cx="125" cy="50" rx="8" ry="14" fill="#bd8000" opacity="0.9" filter="url(#b4)" transform="rotate(30 125 50)"/><ellipse cx="93.7" cy="57" rx="10" ry="10" fill="#a86600" opacity="1" filter="url(#b4)"/><ellipse cx="116" cy="67" rx="9" ry="5" fill="#6b3300" opacity="1" filter="url(#b3)"/><ellipse cx="244" cy="47" rx="18" ry="8" fill="#b26600" opacity="0.9" filter="url(#b4)"/><ellipse cx="266" cy="60" rx="24" ry="12" fill="#9e6600" opacity="0.8" filter="url(#b6)"/><ellipse cx="288" cy="68" rx="7" ry="20" fill="#994c00" opacity="0.8" filter="url(#b4)"/><ellipse cx="110" cy="118" rx="15" ry="14" fill="#614c00" opacity="0.85" filter="url(#b6)"/><ellipse cx="150" cy="118" rx="18" ry="14" fill="#663300" opacity="0.7" filter="url(#b6)"/><ellipse cx="185" cy="134" rx="50" ry="12" fill="#6b2900" opacity="0.8" filter="url(#b6)"/><ellipse cx="170" cy="158" rx="44" ry="6" fill="#6e2600" opacity="0.85" filter="url(#b4)"/><path d="M133 128 L134.5 137 L136.5 145 L141 150.5 L147 148 L154 149 L158 154 L161.5 157.5 L165 154 L168.5 148 L174 147 L183 150 L192 152.5 L201 151.5 L210 149 L214 147" fill="none" stroke="#bd1400" stroke-width="2.6" stroke-linejoin="round" filter="url(#b1)"/><path d="M109.0 87.0 L122.0 84.5 L138.0 88.0 L136.5 104.0 L132.5 122.0 L124.0 109.0 L116.0 97.0Z" fill="#ff1f00" opacity="1" filter="url(#b2)"/><path d="M-10.0 40.0 L45.0 40.0 L55.0 100.0 L70.0 125.0 L92.0 132.0 L108.0 150.0 L126.0 168.0 L126.0 230.0 L-10.0 230.0Z" fill="#a38000" opacity="1" filter="url(#b6)"/><ellipse cx="96" cy="180" rx="7" ry="18" fill="#804c00" opacity="0.9" filter="url(#b3)"/><ellipse cx="153" cy="198" rx="12" ry="8" fill="#804c00" opacity="1" filter="url(#b3)"/><ellipse cx="104" cy="164" rx="6" ry="8" fill="#f24c00" opacity="0.9" filter="url(#b3)"/><ellipse cx="45" cy="158" rx="16" ry="10" fill="#e66600" opacity="0.8" filter="url(#b6)"/><ellipse cx="80" cy="180" rx="8" ry="16" fill="#e06600" opacity="0.9" filter="url(#b4)"/><ellipse cx="12" cy="95" rx="20" ry="40" fill="#eb6600" opacity="1" filter="url(#b10)"/><ellipse cx="300" cy="210" rx="12" ry="10" fill="#cc8000" opacity="1" filter="url(#b3)"/><ellipse cx="291" cy="127" rx="9" ry="18" fill="#6b4c00" opacity="1" filter="url(#b3)"/><ellipse cx="296" cy="123" rx="2.6" ry="12" fill="#e64c00" opacity="1" filter="url(#b2)" transform="rotate(10 296 123)"/></g></g></g></g><use href="#lines" x="0.5"/></g><circle cx="150.5" cy="55.9" r="2.5" fill="#fff" stroke="#000" stroke-width="0.9"/><circle cx="156.6" cy="60.9" r="2.5" fill="#fff" stroke="#000" stroke-width="0.9"/><circle cx="149.9" cy="105.1" r="2.5" fill="#fff" stroke="#000" stroke-width="0.9"/><circle cx="158.2" cy="112.9" r="2.5" fill="#fff" stroke="#000" stroke-width="0.9"/><circle cx="161.5" cy="131.9" r="2.5" fill="#fff" stroke="#000" stroke-width="0.9"/><circle cx="83.8" cy="144.8" r="2.5" fill="#fff" stroke="#000" stroke-width="0.9"/><circle cx="254.7" cy="97.3" r="2.5" fill="#fff" stroke="#000" stroke-width="0.9"/><circle cx="210.1" cy="111.8" r="2.5" fill="#fff" stroke="#000" stroke-width="0.9"/><circle cx="205.4" cy="138.3" r="2.5" fill="#fff" stroke="#000" stroke-width="0.9"/><circle cx="299.7" cy="114.2" r="2.5" fill="#fff" stroke="#000" stroke-width="0.9"/><circle cx="264.4" cy="78.4" r="2.5" fill="#fff" stroke="#000" stroke-width="0.9"/><circle cx="270.8" cy="79.3" r="2.5" fill="#fff" stroke="#000" stroke-width="0.9"/><circle cx="151.6" cy="198.5" r="2.5" fill="#fff" stroke="#000" stroke-width="0.9"/><rect x="16.0" y="9.3" width="10.4" height="46.8" fill="url(#lg)"/><path d="M26.4 9.30 h1.6" stroke="#000" stroke-width="0.9"/><path d="M26.4 32.70 h1.6" stroke="#000" stroke-width="0.9"/><path d="M26.4 56.10 h1.6" stroke="#000" stroke-width="0.9"/><text x="27.799999999999997" y="13.200000000000001" font-size="11.6">0.025</text><text x="27.799999999999997" y="59.699999999999996" font-size="11.6">0.005</text></g>
<text x="355.50" y="23.20" font-size="25.5" text-anchor="start" font-weight="bold" fill="#000" >(c)</text>
<path d="M444.70 24.40 v-6.6" stroke="#000" stroke-width="1.4"/>
<text x="435.10" y="16.80" font-size="11.5" text-anchor="start" font-weight="normal" fill="#000" >100°E</text>
<path d="M498.60 24.40 v-6.6" stroke="#000" stroke-width="1.4"/>
<path d="M552.50 24.40 v-6.6" stroke="#000" stroke-width="1.4"/>
<text x="542.90" y="16.80" font-size="11.5" text-anchor="start" font-weight="normal" fill="#000" >110°E</text>
<path d="M606.40 24.40 v-6.6" stroke="#000" stroke-width="1.4"/>
<path d="M660.30 24.40 v-6.6" stroke="#000" stroke-width="1.4"/>
<text x="650.70" y="16.80" font-size="11.5" text-anchor="start" font-weight="normal" fill="#000" >120°E</text>
<path d="M392.10 69.60 h-6.6" stroke="#000" stroke-width="1.4"/>
<text x="384.50" y="73.80" font-size="11.5" text-anchor="end" font-weight="normal" fill="#000" >30°N</text>
<path d="M392.10 136.00 h-6.6" stroke="#000" stroke-width="1.4"/>
<path d="M392.10 202.40 h-6.6" stroke="#000" stroke-width="1.4"/>
<text x="384.50" y="206.60" font-size="11.5" text-anchor="end" font-weight="normal" fill="#000" >20°N</text>
<rect x="392.10" y="24.40" width="313.7" height="217.9" fill="none" stroke="#000" stroke-width="1.9"/>
<text x="484.50" y="42.20" font-size="14" text-anchor="start" font-weight="normal" fill="#000" >Adaptive genomic offset</text>
<g transform="translate(392.1,296.0)"><g clip-path="url(#fc)"><g mask="url(#mk)"><g transform="rotate(-35.0)"><g filter="url(#pd)"><g transform="rotate(35.0)"><rect x="-200" y="-200" width="713.7" height="617.9" fill="#452600"/><ellipse cx="180" cy="143" rx="84" ry="20" fill="#701a00" opacity="1" filter="url(#b6)"/><ellipse cx="153" cy="198" rx="12" ry="8" fill="#664c00" opacity="1" filter="url(#b3)"/><ellipse cx="150" cy="72" rx="22" ry="32" fill="#c2d900" opacity="1" filter="url(#b4)"/><ellipse cx="116" cy="102" rx="22" ry="10" fill="#c2cc00" opacity="1" filter="url(#b4)"/><ellipse cx="140" cy="100" rx="14" ry="9" fill="#b8cc00" opacity="0.9" filter="url(#b4)"/><ellipse cx="256" cy="52" rx="36" ry="15" fill="#bdd900" opacity="1" filter="url(#b4)"/><ellipse cx="283" cy="68" rx="12" ry="20" fill="#b2e600" opacity="0.9" filter="url(#b4)"/><ellipse cx="270" cy="92" rx="14" ry="15" fill="#99e600" opacity="0.9" filter="url(#b4)"/><ellipse cx="212" cy="70" rx="9" ry="15" fill="#94e600" opacity="0.9" filter="url(#b4)" transform="rotate(20 212 70)"/><ellipse cx="200" cy="104" rx="14" ry="14" fill="#8ce600" opacity="0.9" filter="url(#b4)"/><ellipse cx="247" cy="108" rx="11" ry="10" fill="#85cc00" opacity="0.9" filter="url(#b4)"/><ellipse cx="170" cy="112" rx="10" ry="8" fill="#73b200" opacity="0.8" filter="url(#b4)"/><ellipse cx="87" cy="55" rx="9" ry="9" fill="#8c9900" opacity="1" filter="url(#b3)"/><ellipse cx="80" cy="58" rx="4" ry="8" fill="#d98000" opacity="0.9" filter="url(#b2)"/><ellipse cx="120" cy="52" rx="14" ry="14" fill="#453300" opacity="1" filter="url(#b4)"/><ellipse cx="95" cy="138" rx="12" ry="6" fill="#b29900" opacity="0.8" filter="url(#b3)"/><ellipse cx="60" cy="150" rx="30" ry="16" fill="#5c6600" opacity="1" filter="url(#b10)"/><ellipse cx="92" cy="190" rx="20" ry="26" fill="#6b4c00" opacity="1" filter="url(#b10)"/><ellipse cx="12" cy="95" rx="20" ry="40" fill="#80e600" opacity="1" filter="url(#b10)"/><ellipse cx="300" cy="210" rx="12" ry="10" fill="#664c00" opacity="1" filter="url(#b3)"/><ellipse cx="291" cy="128" rx="9" ry="18" fill="#5c4c00" opacity="1" filter="url(#b3)"/></g></g></g></g><use href="#lines" x="0.5"/></g><circle cx="150.5" cy="55.9" r="2.5" fill="#fff" stroke="#000" stroke-width="0.9"/><circle cx="156.6" cy="60.9" r="2.5" fill="#fff" stroke="#000" stroke-width="0.9"/><circle cx="149.9" cy="105.1" r="2.5" fill="#fff" stroke="#000" stroke-width="0.9"/><circle cx="158.2" cy="112.9" r="2.5" fill="#fff" stroke="#000" stroke-width="0.9"/><circle cx="161.5" cy="131.9" r="2.5" fill="#fff" stroke="#000" stroke-width="0.9"/><circle cx="83.8" cy="144.8" r="2.5" fill="#fff" stroke="#000" stroke-width="0.9"/><circle cx="254.7" cy="97.3" r="2.5" fill="#fff" stroke="#000" stroke-width="0.9"/><circle cx="210.1" cy="111.8" r="2.5" fill="#fff" stroke="#000" stroke-width="0.9"/><circle cx="205.4" cy="138.3" r="2.5" fill="#fff" stroke="#000" stroke-width="0.9"/><circle cx="299.7" cy="114.2" r="2.5" fill="#fff" stroke="#000" stroke-width="0.9"/><circle cx="264.4" cy="78.4" r="2.5" fill="#fff" stroke="#000" stroke-width="0.9"/><circle cx="270.8" cy="79.3" r="2.5" fill="#fff" stroke="#000" stroke-width="0.9"/><circle cx="151.6" cy="198.5" r="2.5" fill="#fff" stroke="#000" stroke-width="0.9"/><rect x="14.9" y="9.4" width="10.3" height="46.6" fill="url(#lg)"/><path d="M25.200000000000003 9.40 h1.6" stroke="#000" stroke-width="0.9"/><path d="M25.200000000000003 32.70 h1.6" stroke="#000" stroke-width="0.9"/><path d="M25.200000000000003 56.00 h1.6" stroke="#000" stroke-width="0.9"/><text x="26.6" y="13.3" font-size="11.6">0.025</text><text x="26.6" y="59.6" font-size="11.6">0.005</text></g>
<text x="355.50" y="286.60" font-size="25.5" text-anchor="start" font-weight="bold" fill="#000" >(d)</text>
<path d="M444.70 296.00 v-6.6" stroke="#000" stroke-width="1.4"/>
<text x="435.10" y="288.40" font-size="11.5" text-anchor="start" font-weight="normal" fill="#000" >100°E</text>
<path d="M498.60 296.00 v-6.6" stroke="#000" stroke-width="1.4"/>
<path d="M552.50 296.00 v-6.6" stroke="#000" stroke-width="1.4"/>
<text x="542.90" y="288.40" font-size="11.5" text-anchor="start" font-weight="normal" fill="#000" >110°E</text>
<path d="M606.40 296.00 v-6.6" stroke="#000" stroke-width="1.4"/>
<path d="M660.30 296.00 v-6.6" stroke="#000" stroke-width="1.4"/>
<text x="650.70" y="288.40" font-size="11.5" text-anchor="start" font-weight="normal" fill="#000" >120°E</text>
<path d="M392.10 341.20 h-6.6" stroke="#000" stroke-width="1.4"/>
<text x="384.50" y="345.40" font-size="11.5" text-anchor="end" font-weight="normal" fill="#000" >30°N</text>
<path d="M392.10 407.60 h-6.6" stroke="#000" stroke-width="1.4"/>
<path d="M392.10 474.00 h-6.6" stroke="#000" stroke-width="1.4"/>
<text x="384.50" y="478.20" font-size="11.5" text-anchor="end" font-weight="normal" fill="#000" >20°N</text>
<rect x="392.10" y="296.00" width="313.7" height="217.9" fill="none" stroke="#000" stroke-width="1.9"/>
<text x="485.50" y="313.80" font-size="14" text-anchor="start" font-weight="normal" fill="#000" >Neutral genomic offset</text>
<rect x="771.7" y="22.8" width="225.89999999999998" height="217.7" fill="#E4E4F7"/>
<path d="M771.7 76.20 H997.6" stroke="#fff" stroke-width="1.0"/>
<path d="M771.7 148.70 H997.6" stroke="#fff" stroke-width="1.0"/>
<path d="M771.7 221.20 H997.6" stroke="#fff" stroke-width="1.0"/>
<path d="M771.7 40.00 H997.6" stroke="#fff" stroke-width="2.0"/>
<path d="M771.7 112.50 H997.6" stroke="#fff" stroke-width="2.0"/>
<path d="M771.7 185.00 H997.6" stroke="#fff" stroke-width="2.0"/>
<path d="M782.10 22.8 V240.5" stroke="#fff" stroke-width="1.9"/>
<path d="M799.20 22.8 V240.5" stroke="#fff" stroke-width="1.9"/>
<path d="M816.30 22.8 V240.5" stroke="#fff" stroke-width="1.9"/>
<path d="M833.40 22.8 V240.5" stroke="#fff" stroke-width="1.9"/>
<path d="M850.50 22.8 V240.5" stroke="#fff" stroke-width="1.9"/>
<path d="M867.60 22.8 V240.5" stroke="#fff" stroke-width="1.9"/>
<path d="M884.70 22.8 V240.5" stroke="#fff" stroke-width="1.9"/>
<path d="M901.80 22.8 V240.5" stroke="#fff" stroke-width="1.9"/>
<path d="M918.90 22.8 V240.5" stroke="#fff" stroke-width="1.9"/>
<path d="M936.00 22.8 V240.5" stroke="#fff" stroke-width="1.9"/>
<path d="M953.10 22.8 V240.5" stroke="#fff" stroke-width="1.9"/>
<path d="M970.20 22.8 V240.5" stroke="#fff" stroke-width="1.9"/>
<path d="M987.30 22.8 V240.5" stroke="#fff" stroke-width="1.9"/>
<path d="M782.10 49.50 V55.50 M782.10 68.20 V80.00" stroke="#2b2b2b" stroke-width="1.5" fill="none"/>
<rect x="775.80" y="55.50" width="12.6" height="12.70" fill="#8FD14F" stroke="#2b2b2b" stroke-width="1.7"/>
<path d="M775.80 65.50 h12.6" stroke="#2b2b2b" stroke-width="1.7"/>
<circle cx="782.10" cy="32.30" r="2.1" fill="#2b2b2b"/>
<circle cx="782.10" cy="35.30" r="2.1" fill="#2b2b2b"/>
<text x="782.10" y="47.20" font-size="12.4" text-anchor="middle" font-weight="normal" fill="#111" >a</text>
<path d="M799.20 58.50 V75.70 M799.20 98.30 V115.70" stroke="#2b2b2b" stroke-width="1.5" fill="none"/>
<rect x="792.90" y="75.70" width="12.6" height="22.60" fill="#8CABDF" stroke="#2b2b2b" stroke-width="1.7"/>
<path d="M792.90 78.20 h12.6" stroke="#2b2b2b" stroke-width="1.7"/>
<text x="799.20" y="54.70" font-size="12.4" text-anchor="middle" font-weight="normal" fill="#111" >b</text>
<path d="M816.30 63.00 V83.50 M816.30 111.20 V126.50" stroke="#2b2b2b" stroke-width="1.5" fill="none"/>
<rect x="810.00" y="83.50" width="12.6" height="27.70" fill="#8CABDF" stroke="#2b2b2b" stroke-width="1.7"/>
<path d="M810.00 90.80 h12.6" stroke="#2b2b2b" stroke-width="1.7"/>
<text x="816.30" y="60.70" font-size="12.4" text-anchor="middle" font-weight="normal" fill="#111" >c</text>
<path d="M833.40 53.20 V93.50 M833.40 125.00 V147.50" stroke="#2b2b2b" stroke-width="1.5" fill="none"/>
<rect x="827.10" y="93.50" width="12.6" height="31.50" fill="#8CABDF" stroke="#2b2b2b" stroke-width="1.7"/>
<path d="M827.10 112.00 h12.6" stroke="#2b2b2b" stroke-width="1.7"/>
<text x="833.40" y="51.70" font-size="12.4" text-anchor="middle" font-weight="normal" fill="#111" >d</text>
<path d="M850.50 108.50 V123.50 M850.50 140.00 V163.70" stroke="#2b2b2b" stroke-width="1.5" fill="none"/>
<rect x="844.20" y="123.50" width="12.6" height="16.50" fill="#8CABDF" stroke="#2b2b2b" stroke-width="1.7"/>
<path d="M844.20 128.70 h12.6" stroke="#2b2b2b" stroke-width="1.7"/>
<circle cx="850.50" cy="167.80" r="2.1" fill="#2b2b2b"/>
<circle cx="850.50" cy="194.00" r="2.1" fill="#2b2b2b"/>
<text x="850.50" y="106.20" font-size="12.4" text-anchor="middle" font-weight="normal" fill="#111" >e</text>
<path d="M867.60 80.00 V114.80 M867.60 144.80 V168.00" stroke="#2b2b2b" stroke-width="1.5" fill="none"/>
<rect x="861.30" y="114.80" width="12.6" height="30.00" fill="#8FD14F" stroke="#2b2b2b" stroke-width="1.7"/>
<path d="M861.30 128.30 h12.6" stroke="#2b2b2b" stroke-width="1.7"/>
<circle cx="867.60" cy="192.00" r="2.1" fill="#2b2b2b"/>
<circle cx="867.60" cy="204.00" r="2.1" fill="#2b2b2b"/>
<circle cx="867.60" cy="207.00" r="2.1" fill="#2b2b2b"/>
<circle cx="867.60" cy="210.00" r="2.1" fill="#2b2b2b"/>
<circle cx="867.60" cy="213.00" r="2.1" fill="#2b2b2b"/>
<circle cx="867.60" cy="216.00" r="2.1" fill="#2b2b2b"/>
<circle cx="867.60" cy="219.00" r="2.1" fill="#2b2b2b"/>
<circle cx="867.60" cy="222.00" r="2.1" fill="#2b2b2b"/>
<circle cx="867.60" cy="224.50" r="2.1" fill="#2b2b2b"/>
<text x="867.60" y="74.20" font-size="12.4" text-anchor="middle" font-weight="normal" fill="#111" >e</text>
<path d="M884.70 89.00 V122.30 M884.70 187.70 V200.50" stroke="#2b2b2b" stroke-width="1.5" fill="none"/>
<rect x="878.40" y="122.30" width="12.6" height="65.40" fill="#8FD14F" stroke="#2b2b2b" stroke-width="1.7"/>
<path d="M878.40 147.20 h12.6" stroke="#2b2b2b" stroke-width="1.7"/>
<text x="884.70" y="86.70" font-size="12.4" text-anchor="middle" font-weight="normal" fill="#111" >f</text>
<path d="M901.80 122.70 V143.00 M901.80 176.20 V199.00" stroke="#2b2b2b" stroke-width="1.5" fill="none"/>
<rect x="895.50" y="143.00" width="12.6" height="33.20" fill="#8FD14F" stroke="#2b2b2b" stroke-width="1.7"/>
<path d="M895.50 158.00 h12.6" stroke="#2b2b2b" stroke-width="1.7"/>
<text x="901.80" y="116.00" font-size="12.4" text-anchor="middle" font-weight="normal" fill="#111" >fg</text>
<path d="M918.90 110.00 V140.70 M918.90 195.20 V212.50" stroke="#2b2b2b" stroke-width="1.5" fill="none"/>
<rect x="912.60" y="140.70" width="12.6" height="54.50" fill="#8CABDF" stroke="#2b2b2b" stroke-width="1.7"/>
<path d="M912.60 152.00 h12.6" stroke="#2b2b2b" stroke-width="1.7"/>
<text x="918.90" y="104.00" font-size="12.4" text-anchor="middle" font-weight="normal" fill="#111" >g</text>
<path d="M936.00 171.20 V176.80 M936.00 186.20 V191.50" stroke="#2b2b2b" stroke-width="1.5" fill="none"/>
<rect x="929.70" y="176.80" width="12.6" height="9.40" fill="#8FD14F" stroke="#2b2b2b" stroke-width="1.7"/>
<path d="M929.70 182.20 h12.6" stroke="#2b2b2b" stroke-width="1.7"/>
<circle cx="936.00" cy="161.70" r="2.1" fill="#2b2b2b"/>
<circle cx="936.00" cy="163.40" r="2.1" fill="#2b2b2b"/>
<text x="936.00" y="156.50" font-size="12.4" text-anchor="middle" font-weight="normal" fill="#111" >h</text>
<path d="M953.10 152.70 V169.30 M953.10 200.80 V211.00" stroke="#2b2b2b" stroke-width="1.5" fill="none"/>
<rect x="946.80" y="169.30" width="12.6" height="31.50" fill="#8FD14F" stroke="#2b2b2b" stroke-width="1.7"/>
<path d="M946.80 196.30 h12.6" stroke="#2b2b2b" stroke-width="1.7"/>
<text x="953.10" y="149.00" font-size="12.4" text-anchor="middle" font-weight="normal" fill="#111" >hi</text>
<path d="M970.20 143.70 V173.20 M970.20 214.70 V230.50" stroke="#2b2b2b" stroke-width="1.5" fill="none"/>
<rect x="963.90" y="173.20" width="12.6" height="41.50" fill="#8CABDF" stroke="#2b2b2b" stroke-width="1.7"/>
<path d="M963.90 196.00 h12.6" stroke="#2b2b2b" stroke-width="1.7"/>
<text x="970.20" y="137.70" font-size="12.4" text-anchor="middle" font-weight="normal" fill="#111" >ij</text>
<path d="M987.30 161.50 V190.00 M987.30 213.20 V221.80" stroke="#2b2b2b" stroke-width="1.5" fill="none"/>
<rect x="981.00" y="190.00" width="12.6" height="23.20" fill="#8FD14F" stroke="#2b2b2b" stroke-width="1.7"/>
<path d="M981.00 207.70 h12.6" stroke="#2b2b2b" stroke-width="1.7"/>
<circle cx="987.30" cy="141.50" r="2.1" fill="#2b2b2b"/>
<circle cx="987.30" cy="145.20" r="2.1" fill="#2b2b2b"/>
<text x="987.30" y="134.00" font-size="12.4" text-anchor="middle" font-weight="normal" fill="#111" >j</text>
<rect x="771.7" y="22.8" width="225.89999999999998" height="217.7" fill="none" stroke="#000" stroke-width="2.0"/>
<path d="M771.7 40.00 h-2.6" stroke="#000" stroke-width="1.2"/>
<text x="765.70" y="44.10" font-size="11.6" text-anchor="end" font-weight="normal" fill="#000" >0.012</text>
<path d="M771.7 112.50 h-2.6" stroke="#000" stroke-width="1.2"/>
<text x="765.70" y="116.60" font-size="11.6" text-anchor="end" font-weight="normal" fill="#000" >0.010</text>
<path d="M771.7 185.00 h-2.6" stroke="#000" stroke-width="1.2"/>
<text x="765.70" y="189.10" font-size="11.6" text-anchor="end" font-weight="normal" fill="#000" >0.008</text>
<path d="M782.10 240.5 v3.2" stroke="#000" stroke-width="1.2"/>
<text transform="translate(783.10,245.10) rotate(-45)" font-size="13" text-anchor="end" font-weight="bold" fill="#8FD14F" stroke="#8FD14F" stroke-width="0.3" dy="0.72em">TB</text>
<path d="M799.20 240.5 v3.2" stroke="#000" stroke-width="1.2"/>
<text transform="translate(800.20,245.10) rotate(-45)" font-size="13" text-anchor="end" font-weight="bold" fill="#7BA0DC" stroke="#7BA0DC" stroke-width="0.3" dy="0.72em">ZJJ</text>
<path d="M816.30 240.5 v3.2" stroke="#000" stroke-width="1.2"/>
<text transform="translate(817.30,245.10) rotate(-45)" font-size="13" text-anchor="end" font-weight="bold" fill="#7BA0DC" stroke="#7BA0DC" stroke-width="0.3" dy="0.72em">ES</text>
<path d="M833.40 240.5 v3.2" stroke="#000" stroke-width="1.2"/>
<text transform="translate(834.40,245.10) rotate(-45)" font-size="13" text-anchor="end" font-weight="bold" fill="#7BA0DC" stroke="#7BA0DC" stroke-width="0.3" dy="0.72em">PB</text>
<path d="M850.50 240.5 v3.2" stroke="#000" stroke-width="1.2"/>
<text transform="translate(851.50,245.10) rotate(-45)" font-size="13" text-anchor="end" font-weight="normal" fill="#8FD14F" dy="0.72em">LP</text>
<path d="M867.60 240.5 v3.2" stroke="#000" stroke-width="1.2"/>
<text transform="translate(868.60,245.10) rotate(-45)" font-size="13" text-anchor="end" font-weight="normal" fill="#8FD14F" dy="0.72em">JN</text>
<path d="M884.70 240.5 v3.2" stroke="#000" stroke-width="1.2"/>
<text transform="translate(885.70,245.10) rotate(-45)" font-size="13" text-anchor="end" font-weight="normal" fill="#8FD14F" dy="0.72em">LQ</text>
<path d="M901.80 240.5 v3.2" stroke="#000" stroke-width="1.2"/>
<text transform="translate(902.80,245.10) rotate(-45)" font-size="13" text-anchor="end" font-weight="normal" fill="#8FD14F" dy="0.72em">NP</text>
<path d="M918.90 240.5 v3.2" stroke="#000" stroke-width="1.2"/>
<text transform="translate(919.90,245.10) rotate(-45)" font-size="13" text-anchor="end" font-weight="normal" fill="#8FD14F" dy="0.72em">LS</text>
<path d="M936.00 240.5 v3.2" stroke="#000" stroke-width="1.2"/>
<text transform="translate(937.00,245.10) rotate(-45)" font-size="13" text-anchor="end" font-weight="bold" fill="#8FD14F" stroke="#8FD14F" stroke-width="0.3" dy="0.72em">WZS</text>
<path d="M953.10 240.5 v3.2" stroke="#000" stroke-width="1.2"/>
<text transform="translate(954.10,245.10) rotate(-45)" font-size="13" text-anchor="end" font-weight="normal" fill="#8FD14F" dy="0.72em">HZ</text>
<path d="M970.20 240.5 v3.2" stroke="#000" stroke-width="1.2"/>
<text transform="translate(971.20,245.10) rotate(-45)" font-size="13" text-anchor="end" font-weight="normal" fill="#7BA0DC" dy="0.72em">JX</text>
<path d="M987.30 240.5 v3.2" stroke="#000" stroke-width="1.2"/>
<text transform="translate(988.30,245.10) rotate(-45)" font-size="13" text-anchor="end" font-weight="normal" fill="#8FD14F" dy="0.72em">CY</text>
<text transform="translate(733.8,131) rotate(-90)" font-size="13.8" text-anchor="middle">Adaptive genomic offset</text>
<text x="727.50" y="24.00" font-size="25.5" text-anchor="start" font-weight="bold" fill="#000" >(e)</text>
<rect x="771.7" y="296.0" width="225.89999999999998" height="217.60000000000002" fill="#E4E4F7"/>
<path d="M771.7 330.70 H997.6" stroke="#fff" stroke-width="1.0"/>
<path d="M771.7 389.80 H997.6" stroke="#fff" stroke-width="1.0"/>
<path d="M771.7 449.00 H997.6" stroke="#fff" stroke-width="1.0"/>
<path d="M771.7 508.00 H997.6" stroke="#fff" stroke-width="1.0"/>
<path d="M771.7 301.20 H997.6" stroke="#fff" stroke-width="2.0"/>
<path d="M771.7 360.30 H997.6" stroke="#fff" stroke-width="2.0"/>
<path d="M771.7 419.40 H997.6" stroke="#fff" stroke-width="2.0"/>
<path d="M771.7 478.50 H997.6" stroke="#fff" stroke-width="2.0"/>
<path d="M782.10 296.0 V513.6" stroke="#fff" stroke-width="1.9"/>
<path d="M799.20 296.0 V513.6" stroke="#fff" stroke-width="1.9"/>
<path d="M816.30 296.0 V513.6" stroke="#fff" stroke-width="1.9"/>
<path d="M833.40 296.0 V513.6" stroke="#fff" stroke-width="1.9"/>
<path d="M850.50 296.0 V513.6" stroke="#fff" stroke-width="1.9"/>
<path d="M867.60 296.0 V513.6" stroke="#fff" stroke-width="1.9"/>
<path d="M884.70 296.0 V513.6" stroke="#fff" stroke-width="1.9"/>
<path d="M901.80 296.0 V513.6" stroke="#fff" stroke-width="1.9"/>
<path d="M918.90 296.0 V513.6" stroke="#fff" stroke-width="1.9"/>
<path d="M936.00 296.0 V513.6" stroke="#fff" stroke-width="1.9"/>
<path d="M953.10 296.0 V513.6" stroke="#fff" stroke-width="1.9"/>
<path d="M970.20 296.0 V513.6" stroke="#fff" stroke-width="1.9"/>
<path d="M987.30 296.0 V513.6" stroke="#fff" stroke-width="1.9"/>
<path d="M782.10 305.70 V314.30 M782.10 354.20 V405.20" stroke="#2b2b2b" stroke-width="1.5" fill="none"/>
<rect x="775.80" y="314.30" width="12.6" height="39.90" fill="#8CABDF" stroke="#2b2b2b" stroke-width="1.7"/>
<path d="M775.80 329.30 h12.6" stroke="#2b2b2b" stroke-width="1.7"/>
<circle cx="782.10" cy="422.80" r="2.1" fill="#2b2b2b"/>
<text x="782.10" y="304.20" font-size="12.4" text-anchor="middle" font-weight="normal" fill="#111" >a</text>
<path d="M799.20 312.20 V328.70 M799.20 361.20 V406.00" stroke="#2b2b2b" stroke-width="1.5" fill="none"/>
<rect x="792.90" y="328.70" width="12.6" height="32.50" fill="#8CABDF" stroke="#2b2b2b" stroke-width="1.7"/>
<path d="M792.90 338.00 h12.6" stroke="#2b2b2b" stroke-width="1.7"/>
<circle cx="799.20" cy="415.00" r="2.1" fill="#2b2b2b"/>
<circle cx="799.20" cy="418.00" r="2.1" fill="#2b2b2b"/>
<text x="799.20" y="309.20" font-size="12.4" text-anchor="middle" font-weight="normal" fill="#111" >ab</text>
<path d="M816.30 315.50 V324.50 M816.30 382.70 V463.50" stroke="#2b2b2b" stroke-width="1.5" fill="none"/>
<rect x="810.00" y="324.50" width="12.6" height="58.20" fill="#8CABDF" stroke="#2b2b2b" stroke-width="1.7"/>
<path d="M810.00 356.00 h12.6" stroke="#2b2b2b" stroke-width="1.7"/>
<text x="816.30" y="312.20" font-size="12.4" text-anchor="middle" font-weight="normal" fill="#111" >bc</text>
<path d="M833.40 314.70 V329.30 M833.40 397.30 V481.50" stroke="#2b2b2b" stroke-width="1.5" fill="none"/>
<rect x="827.10" y="329.30" width="12.6" height="68.00" fill="#8FD14F" stroke="#2b2b2b" stroke-width="1.7"/>
<path d="M827.10 354.80 h12.6" stroke="#2b2b2b" stroke-width="1.7"/>
<text x="833.40" y="310.20" font-size="12.4" text-anchor="middle" font-weight="normal" fill="#111" >c</text>
<path d="M850.50 319.20 V343.50 M850.50 443.50 V481.50" stroke="#2b2b2b" stroke-width="1.5" fill="none"/>
<rect x="844.20" y="343.50" width="12.6" height="100.00" fill="#8CABDF" stroke="#2b2b2b" stroke-width="1.7"/>
<path d="M844.20 374.50 h12.6" stroke="#2b2b2b" stroke-width="1.7"/>
<text x="850.50" y="315.50" font-size="12.4" text-anchor="middle" font-weight="normal" fill="#111" >d</text>
<path d="M867.60 317.70 V338.70 M867.60 469.50 V481.50" stroke="#2b2b2b" stroke-width="1.5" fill="none"/>
<rect x="861.30" y="338.70" width="12.6" height="130.80" fill="#8FD14F" stroke="#2b2b2b" stroke-width="1.7"/>
<path d="M861.30 415.70 h12.6" stroke="#2b2b2b" stroke-width="1.7"/>
<text x="867.60" y="314.70" font-size="12.4" text-anchor="middle" font-weight="normal" fill="#111" >e</text>
<path d="M884.70 399.20 V414.50 M884.70 450.20 V467.20" stroke="#2b2b2b" stroke-width="1.5" fill="none"/>
<rect x="878.40" y="414.50" width="12.6" height="35.70" fill="#8CABDF" stroke="#2b2b2b" stroke-width="1.7"/>
<path d="M878.40 437.80 h12.6" stroke="#2b2b2b" stroke-width="1.7"/>
<circle cx="884.70" cy="340.20" r="2.1" fill="#2b2b2b"/>
<circle cx="884.70" cy="343.50" r="2.1" fill="#2b2b2b"/>
<circle cx="884.70" cy="346.50" r="2.1" fill="#2b2b2b"/>
<circle cx="884.70" cy="352.00" r="2.1" fill="#2b2b2b"/>
<circle cx="884.70" cy="355.50" r="2.1" fill="#2b2b2b"/>
<text x="884.70" y="395.50" font-size="12.4" text-anchor="middle" font-weight="normal" fill="#111" >f</text>
<path d="M901.80 426.20 V429.70 M901.80 443.50 V449.50" stroke="#2b2b2b" stroke-width="1.5" fill="none"/>
<rect x="895.50" y="429.70" width="12.6" height="13.80" fill="#8FD14F" stroke="#2b2b2b" stroke-width="1.7"/>
<path d="M895.50 439.00 h12.6" stroke="#2b2b2b" stroke-width="1.7"/>
<text x="901.80" y="420.20" font-size="12.4" text-anchor="middle" font-weight="normal" fill="#111" >fg</text>
<path d="M918.90 410.50 V448.30 M918.90 474.70 V478.50" stroke="#2b2b2b" stroke-width="1.5" fill="none"/>
<rect x="912.60" y="448.30" width="12.6" height="26.40" fill="#8CABDF" stroke="#2b2b2b" stroke-width="1.7"/>
<path d="M912.60 461.70 h12.6" stroke="#2b2b2b" stroke-width="1.7"/>
<circle cx="918.90" cy="331.50" r="2.1" fill="#2b2b2b"/>
<circle cx="918.90" cy="338.70" r="2.1" fill="#2b2b2b"/>
<circle cx="918.90" cy="342.50" r="2.1" fill="#2b2b2b"/>
<circle cx="918.90" cy="381.00" r="2.1" fill="#2b2b2b"/>
<circle cx="918.90" cy="394.00" r="2.1" fill="#2b2b2b"/>
<circle cx="918.90" cy="399.50" r="2.1" fill="#2b2b2b"/>
<text x="918.90" y="376.70" font-size="12.4" text-anchor="middle" font-weight="normal" fill="#111" >gh</text>
<path d="M936.00 448.00 V451.80 M936.00 462.70 V478.50" stroke="#2b2b2b" stroke-width="1.5" fill="none"/>
<rect x="929.70" y="451.80" width="12.6" height="10.90" fill="#8FD14F" stroke="#2b2b2b" stroke-width="1.7"/>
<path d="M929.70 453.30 h12.6" stroke="#2b2b2b" stroke-width="1.7"/>
<circle cx="936.00" cy="478.50" r="2.1" fill="#2b2b2b"/>
<text x="936.00" y="444.20" font-size="12.4" text-anchor="middle" font-weight="normal" fill="#111" >hi</text>
<path d="M953.10 439.70 V453.00 M953.10 477.00 V489.70" stroke="#2b2b2b" stroke-width="1.5" fill="none"/>
<rect x="946.80" y="453.00" width="12.6" height="24.00" fill="#8FD14F" stroke="#2b2b2b" stroke-width="1.7"/>
<path d="M946.80 463.50 h12.6" stroke="#2b2b2b" stroke-width="1.7"/>
<circle cx="953.10" cy="362.00" r="2.1" fill="#2b2b2b"/>
<circle cx="953.10" cy="367.20" r="2.1" fill="#2b2b2b"/>
<circle cx="953.10" cy="405.50" r="2.1" fill="#2b2b2b"/>
<text x="953.10" y="435.50" font-size="12.4" text-anchor="middle" font-weight="normal" fill="#111" >hi</text>
<path d="M970.20 453.30 V457.50 M970.20 466.20 V471.00" stroke="#2b2b2b" stroke-width="1.5" fill="none"/>
<rect x="963.90" y="457.50" width="12.6" height="8.70" fill="#8FD14F" stroke="#2b2b2b" stroke-width="1.7"/>
<path d="M963.90 459.30 h12.6" stroke="#2b2b2b" stroke-width="1.7"/>
<circle cx="970.20" cy="480.00" r="2.1" fill="#2b2b2b"/>
<circle cx="970.20" cy="483.70" r="2.1" fill="#2b2b2b"/>
<circle cx="970.20" cy="491.70" r="2.1" fill="#2b2b2b"/>
<circle cx="970.20" cy="503.70" r="2.1" fill="#2b2b2b"/>
<text x="970.20" y="451.70" font-size="12.4" text-anchor="middle" font-weight="normal" fill="#111" >hi</text>
<path d="M987.30 464.20 V475.50 M987.30 486.00 V492.00" stroke="#2b2b2b" stroke-width="1.5" fill="none"/>
<rect x="981.00" y="475.50" width="12.6" height="10.50" fill="#8FD14F" stroke="#2b2b2b" stroke-width="1.7"/>
<path d="M981.00 481.50 h12.6" stroke="#2b2b2b" stroke-width="1.7"/>
<circle cx="987.30" cy="335.70" r="2.1" fill="#2b2b2b"/>
<circle cx="987.30" cy="358.20" r="2.1" fill="#2b2b2b"/>
<circle cx="987.30" cy="363.50" r="2.1" fill="#2b2b2b"/>
<circle cx="987.30" cy="369.50" r="2.1" fill="#2b2b2b"/>
<circle cx="987.30" cy="389.50" r="2.1" fill="#2b2b2b"/>
<circle cx="987.30" cy="397.50" r="2.1" fill="#2b2b2b"/>
<circle cx="987.30" cy="403.70" r="2.1" fill="#2b2b2b"/>
<circle cx="987.30" cy="407.50" r="2.1" fill="#2b2b2b"/>
<circle cx="987.30" cy="451.70" r="2.1" fill="#2b2b2b"/>
<circle cx="987.30" cy="454.50" r="2.1" fill="#2b2b2b"/>
<circle cx="987.30" cy="457.50" r="2.1" fill="#2b2b2b"/>
<text x="987.30" y="446.50" font-size="12.4" text-anchor="middle" font-weight="normal" fill="#111" >i</text>
<rect x="771.7" y="296.0" width="225.89999999999998" height="217.60000000000002" fill="none" stroke="#000" stroke-width="2.0"/>
<path d="M771.7 301.20 h-2.6" stroke="#000" stroke-width="1.2"/>
<text x="765.70" y="305.30" font-size="11.6" text-anchor="end" font-weight="normal" fill="#000" >0.025</text>
<path d="M771.7 360.30 h-2.6" stroke="#000" stroke-width="1.2"/>
<text x="765.70" y="364.40" font-size="11.6" text-anchor="end" font-weight="normal" fill="#000" >0.020</text>
<path d="M771.7 419.40 h-2.6" stroke="#000" stroke-width="1.2"/>
<text x="765.70" y="423.50" font-size="11.6" text-anchor="end" font-weight="normal" fill="#000" >0.015</text>
<path d="M771.7 478.50 h-2.6" stroke="#000" stroke-width="1.2"/>
<text x="765.70" y="482.60" font-size="11.6" text-anchor="end" font-weight="normal" fill="#000" >0.010</text>
<path d="M782.10 513.6 v3.2" stroke="#000" stroke-width="1.2"/>
<text transform="translate(783.10,518.20) rotate(-45)" font-size="13" text-anchor="end" font-weight="bold" fill="#7BA0DC" stroke="#7BA0DC" stroke-width="0.3" dy="0.72em">ZJJ</text>
<path d="M799.20 513.6 v3.2" stroke="#000" stroke-width="1.2"/>
<text transform="translate(800.20,518.20) rotate(-45)" font-size="13" text-anchor="end" font-weight="bold" fill="#7BA0DC" stroke="#7BA0DC" stroke-width="0.3" dy="0.72em">ES</text>
<path d="M816.30 513.6 v3.2" stroke="#000" stroke-width="1.2"/>
<text transform="translate(817.30,518.20) rotate(-45)" font-size="13" text-anchor="end" font-weight="normal" fill="#7BA0DC" dy="0.72em">LP</text>
<path d="M833.40 513.6 v3.2" stroke="#000" stroke-width="1.2"/>
<text transform="translate(834.40,518.20) rotate(-45)" font-size="13" text-anchor="end" font-weight="normal" fill="#8FD14F" dy="0.72em">JN</text>
<path d="M850.50 513.6 v3.2" stroke="#000" stroke-width="1.2"/>
<text transform="translate(851.50,518.20) rotate(-45)" font-size="13" text-anchor="end" font-weight="normal" fill="#7BA0DC" dy="0.72em">LS</text>
<path d="M867.60 513.6 v3.2" stroke="#000" stroke-width="1.2"/>
<text transform="translate(868.60,518.20) rotate(-45)" font-size="13" text-anchor="end" font-weight="normal" fill="#8FD14F" dy="0.72em">LQ</text>
<path d="M884.70 513.6 v3.2" stroke="#000" stroke-width="1.2"/>
<text transform="translate(885.70,518.20) rotate(-45)" font-size="13" text-anchor="end" font-weight="bold" fill="#7BA0DC" stroke="#7BA0DC" stroke-width="0.3" dy="0.72em">PB</text>
<path d="M901.80 513.6 v3.2" stroke="#000" stroke-width="1.2"/>
<text transform="translate(902.80,518.20) rotate(-45)" font-size="13" text-anchor="end" font-weight="bold" fill="#8FD14F" stroke="#8FD14F" stroke-width="0.3" dy="0.72em">TB</text>
<path d="M918.90 513.6 v3.2" stroke="#000" stroke-width="1.2"/>
<text transform="translate(919.90,518.20) rotate(-45)" font-size="13" text-anchor="end" font-weight="normal" fill="#7BA0DC" dy="0.72em">JX</text>
<path d="M936.00 513.6 v3.2" stroke="#000" stroke-width="1.2"/>
<text transform="translate(937.00,518.20) rotate(-45)" font-size="13" text-anchor="end" font-weight="normal" fill="#8FD14F" dy="0.72em">HZ</text>
<path d="M953.10 513.6 v3.2" stroke="#000" stroke-width="1.2"/>
<text transform="translate(954.10,518.20) rotate(-45)" font-size="13" text-anchor="end" font-weight="normal" fill="#8FD14F" dy="0.72em">NP</text>
<path d="M970.20 513.6 v3.2" stroke="#000" stroke-width="1.2"/>
<text transform="translate(971.20,518.20) rotate(-45)" font-size="13" text-anchor="end" font-weight="bold" fill="#8FD14F" stroke="#8FD14F" stroke-width="0.3" dy="0.72em">WZS</text>
<path d="M987.30 513.6 v3.2" stroke="#000" stroke-width="1.2"/>
<text transform="translate(988.30,518.20) rotate(-45)" font-size="13" text-anchor="end" font-weight="normal" fill="#8FD14F" dy="0.72em">CY</text>
<text transform="translate(733.8,404) rotate(-90)" font-size="13.8" text-anchor="middle">Neutral genomic offset</text>
<text x="727.50" y="287.60" font-size="25.5" text-anchor="start" font-weight="bold" fill="#000" >(f)</text>
</svg>
</body></html>
